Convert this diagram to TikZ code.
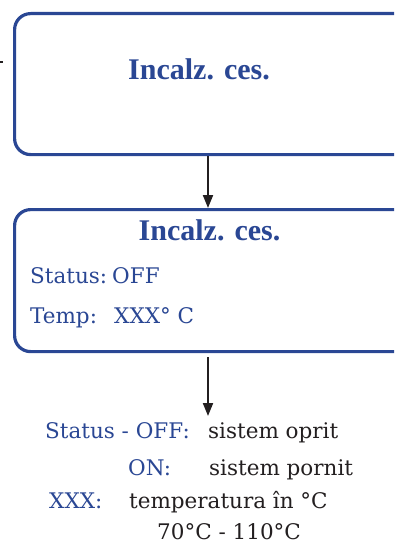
\documentclass[tikz,border=0pt]{standalone}
\usepackage{fontspec}
\setmainfont{DejaVu Serif}
\newfontfamily\headfont{Liberation Serif}
\usetikzlibrary{arrows.meta}
\definecolor{navy}{HTML}{2A4794}
\definecolor{ink}{HTML}{231F20}
\tikzset{
  title/.style={font=\headfont\bfseries\fontsize{30}{32}\selectfont,text=navy,inner sep=0pt},
  lbl/.style={font=\fontsize{21.5}{24}\selectfont,text=navy,inner sep=0pt,anchor=base west},
  body/.style={font=\fontsize{21.5}{24}\selectfont,text=ink,inner sep=0pt,anchor=base west},
  panel/.style={rounded corners=16pt,draw=navy,line width=3.2pt,fill=white},
  arr/.style={-{Triangle[length=13pt,width=10pt]},draw=ink,line width=2pt}
}
\begin{document}
\begin{tikzpicture}[x=1pt,y=-1pt]
\useasboundingbox (0,0) rectangle (394,543);
\clip (0,0) rectangle (394,543);
% display boxes
\node[panel,minimum width=396pt,minimum height=141pt,anchor=north west] (menu) at (13,12) {};
\node[panel,minimum width=396pt,minimum height=142pt,anchor=north west] (info) at (13,208) {};
\node[title,anchor=base west] (menut) at (128,79) {Incalz. ces.};
\node[title,anchor=base] (infot) at (209.5,240) {Incalz. ces.};
\node[lbl] (stat) at (30,283) {Status:};
\node[lbl] (statv) at (112,283) {OFF};
\node[lbl] (temp) at (30,323) {Temp:};
\node[lbl] (tempv) at (114,323) {XXX° C};
% legend
\coordinate (legend) at (208,416);
\node[lbl] (k1) at (45,438) {Status - OFF:};
\node[body] (v1) at (208,438) {sistem oprit};
\node[lbl] (k2) at (128,475) {ON:};
\node[body] (v2) at (209,475) {sistem pornit};
\node[lbl] (k3) at (49,508) {XXX:};
\node[body] (v3) at (129,508) {temperatura în °C};
\node[body] (v4) at (157,539) {70°C - 110°C};
\draw[arr] (menu.south -| legend) -- (info.north -| legend);
\draw[arr,shorten <=4pt] (info.south -| legend) -- (legend);
% stub from the left
\coordinate (stub) at (0,62);
\draw[ink,line width=1.5pt] (stub) -- ++(3,0);
\end{tikzpicture}
\end{document}
